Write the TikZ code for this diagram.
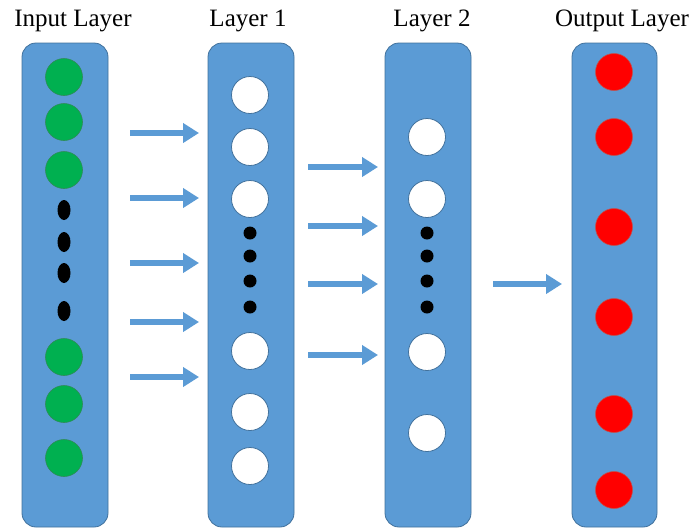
\documentclass[tikz,border=0pt]{standalone}
\usepackage{fontspec}
\setmainfont{Liberation Serif}
\usetikzlibrary{arrows.meta,shapes.geometric}

\definecolor{layerblue}{HTML}{5B9BD5}
\definecolor{layeredge}{HTML}{41719C}
\definecolor{ingreen}{HTML}{00B050}
\definecolor{ingreenedge}{HTML}{2E8B57}
\definecolor{outred}{HTML}{FF0000}
\definecolor{outrededge}{HTML}{C0504D}

\tikzset{
  layerbox/.style={draw=layeredge, line width=0.8pt, fill=layerblue, rounded corners=14pt},
  title/.style={font=\fontsize{25}{28}\selectfont, anchor=base, inner sep=0pt},
  inunit/.style={circle, minimum size=37pt, inner sep=0pt, fill=ingreen, draw=ingreenedge, line width=0.6pt},
  hidunit/.style={circle, minimum size=37pt, inner sep=0pt, fill=white, draw=layeredge, line width=0.8pt},
  outunit/.style={circle, minimum size=37pt, inner sep=0pt, fill=outred, draw=outrededge, line width=0.6pt},
  dotv/.style={ellipse, minimum width=13pt, minimum height=20pt, inner sep=0pt, fill=black},
  dotc/.style={circle, minimum size=13pt, inner sep=0pt, fill=black},
  flow/.style={draw=layerblue, line width=6.5pt, -{Triangle[width=19pt,length=16pt]}}
}

\begin{document}
\begin{tikzpicture}[x=1pt, y=-1pt]
  \useasboundingbox (0,0) rectangle (695,531);

  % layer columns
  \draw[layerbox] (22,43) rectangle (108,527);
  \draw[layerbox] (208,43) rectangle (294,527);
  \draw[layerbox] (385,43) rectangle (471,527);
  \draw[layerbox] (572,43) rectangle (657,527);

  % titles
  \node[title] (tin)  at (73,26)  {Input Layer};
  \node[title] (t1)   at (248,26) {Layer 1};
  \node[title] (t2)   at (432,26) {Layer 2};
  \node[title] (tout) at (622,26) {Output Layer};

  % input layer
  \node[inunit] (i1) at (64,77)  {};
  \node[inunit] (i2) at (64,122) {};
  \node[inunit] (i3) at (64,170) {};
  \node[dotv]   (id1) at (64,210) {};
  \node[dotv]   (id2) at (64,242) {};
  \node[dotv]   (id3) at (64,273) {};
  \node[dotv]   (id4) at (64,311) {};
  \node[inunit] (i4) at (64,357) {};
  \node[inunit] (i5) at (64,404) {};
  \node[inunit] (i6) at (64,458) {};

  % hidden layer 1
  \node[hidunit] (h1) at (250,95)  {};
  \node[hidunit] (h2) at (250,147) {};
  \node[hidunit] (h3) at (250,199) {};
  \node[dotc]    (hd1) at (250,233) {};
  \node[dotc]    (hd2) at (250,256) {};
  \node[dotc]    (hd3) at (250,281) {};
  \node[dotc]    (hd4) at (250,307) {};
  \node[hidunit] (h4) at (250,351) {};
  \node[hidunit] (h5) at (250,412) {};
  \node[hidunit] (h6) at (250,466) {};

  % hidden layer 2
  \node[hidunit] (g1) at (427,137) {};
  \node[hidunit] (g2) at (427,199) {};
  \node[dotc]    (gd1) at (427,233) {};
  \node[dotc]    (gd2) at (427,256) {};
  \node[dotc]    (gd3) at (427,281) {};
  \node[dotc]    (gd4) at (427,307) {};
  \node[hidunit] (g3) at (427,352) {};
  \node[hidunit] (g4) at (427,433) {};

  % output layer
  \node[outunit] (o1) at (614,72)  {};
  \node[outunit] (o2) at (614,137) {};
  \node[outunit] (o3) at (614,227) {};
  \node[outunit] (o4) at (614,317) {};
  \node[outunit] (o5) at (614,414) {};
  \node[outunit] (o6) at (614,490) {};

  % arrow end points between the columns
  \foreach \k/\yy in {1/133, 2/198, 3/263, 4/322, 5/377} {
    \coordinate (a\k s) at (130,\yy);
    \coordinate (a\k e) at (199,\yy);
  }
  \foreach \k/\yy in {1/167, 2/226, 3/284, 4/355} {
    \coordinate (b\k s) at (308,\yy);
    \coordinate (b\k e) at (378,\yy);
  }
  \coordinate (cs) at (493,284);
  \coordinate (ce) at (562,284);

  % flow arrows
  \foreach \k in {1,...,5} { \draw[flow] (a\k s) -- (a\k e); }
  \foreach \k in {1,...,4} { \draw[flow] (b\k s) -- (b\k e); }
  \draw[flow] (cs) -- (ce);
\end{tikzpicture}
\end{document}
